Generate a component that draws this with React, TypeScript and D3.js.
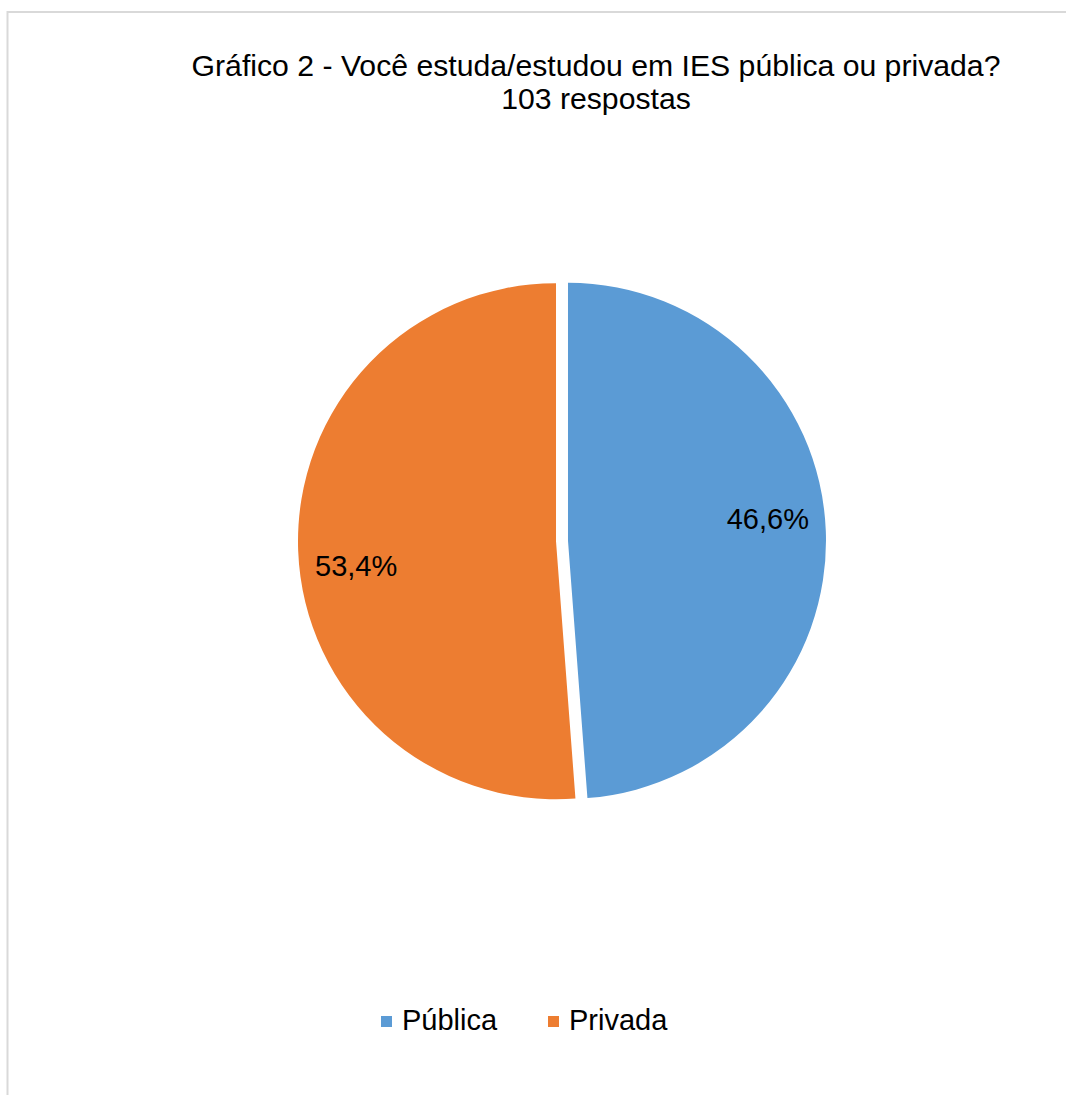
import React from "react";
import * as d3 from "d3";

const titleLines = ["Gráfico 2 - Você estuda/estudou em IES pública ou privada?", "103 respostas"];
const categories = ["Pública", "Privada"];
// slice sizes as drawn in the reference (angles)
const sliceValues = [48.8, 51.2];
// data labels as printed
const labelTexts = ["46,6%", "53,4%"];
const colors = ["#5B9BD5", "#ED7D31"];

const W = 1066;
const H = 1095;
const cx = 562;
const cy = 541;
const R = 258;
const explode = 6;
const labelR = 200;
const labelDy = [-14, 17];
const FONT = "'Liberation Sans', Arial, Helvetica, sans-serif";

export default function App() {
  const pie = d3.pie<number>().sort(null).startAngle(0).endAngle(2 * Math.PI);
  const arcs = pie(sliceValues);
  const arcGen = d3.arc<d3.PieArcDatum<number>>().innerRadius(0).outerRadius(R);
  const labelArc = d3.arc<d3.PieArcDatum<number>>().innerRadius(labelR).outerRadius(labelR);

  const legendX = d3.scalePoint<string>().domain(categories).range([381, 548]);

  return (
    <svg
      width={W}
      height={H}
      style={{ position: "absolute", left: 0, top: 0, background: "#fff" }}
      fontFamily={FONT}
    >
      <rect x={0} y={0} width={W} height={H} fill="#fff" />
      <path d={`M7.5,${H} L7.5,12 L${W},12`} fill="none" stroke="#d9d9d9" strokeWidth={2} />
      {titleLines.map((t, i) => (
        <text key={i} x={596} y={76 + i * 33} textAnchor="middle" fontSize={30.2} fill="#000">
          {t}
        </text>
      ))}
      {arcs.map((a, i) => {
        const mid = (a.startAngle + a.endAngle) / 2;
        const ox = Math.sin(mid) * explode;
        const oy = -Math.cos(mid) * explode;
        const [lx, ly] = labelArc.centroid(a);
        return (
          <g key={i} transform={`translate(${cx + ox},${cy + oy})`}>
            <path d={arcGen(a) || ""} fill={colors[i]} />
            <text
              x={lx}
              y={ly + labelDy[i]}
              dy="0.35em"
              textAnchor="middle"
              fontSize={29}
              fill="#000"
            >
              {labelTexts[i]}
            </text>
          </g>
        );
      })}
      {categories.map((c, i) => {
        const x = legendX(c) as number;
        return (
          <g key={c}>
            <rect x={x} y={1016} width={11} height={11} fill={colors[i]} />
            <text x={x + 21} y={1030} fontSize={29} fill="#000">
              {c}
            </text>
          </g>
        );
      })}
    </svg>
  );
}
